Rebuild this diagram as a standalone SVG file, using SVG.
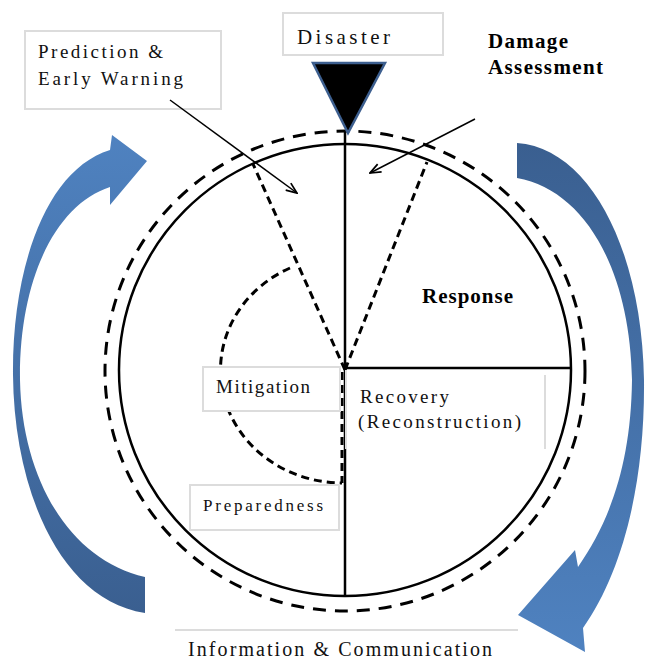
<svg xmlns="http://www.w3.org/2000/svg" width="646" height="659" viewBox="0 0 646 659">
<style>
.box{fill:#fff;stroke:#dcdcdc;stroke-width:2}
.t{font-family:"Liberation Serif","Times New Roman",serif;fill:#111}
.b{font-family:"Liberation Serif","Times New Roman",serif;font-weight:bold;fill:#000}
.solid{fill:none;stroke:#000;stroke-width:2.5}
.dash{fill:none;stroke:#000;stroke-width:3;stroke-dasharray:13 9}
.sdash{fill:none;stroke:#000;stroke-width:3;stroke-dasharray:8 5}
.lead{fill:none;stroke:#000;stroke-width:1.5;marker-end:url(#open)}
</style>
<defs>
<marker id="open" viewBox="0 0 12 10" refX="11" refY="5" markerWidth="13" markerHeight="11" markerUnits="userSpaceOnUse" orient="auto">
<path d="M1,1 L11,5 L1,9" fill="none" stroke="#000" stroke-width="1.6"/>
</marker>
<linearGradient id="gl" x1="0" y1="0" x2="0" y2="1">
<stop offset="0" stop-color="#4f82c0"/><stop offset="1" stop-color="#3a5f90"/>
</linearGradient>
<linearGradient id="gr" x1="0" y1="0" x2="0" y2="1">
<stop offset="0" stop-color="#3a5f90"/><stop offset="1" stop-color="#4f82c0"/>
</linearGradient>
</defs>

<g id="cycle-arrows">
<path id="arrow-left" fill="url(#gl)" d="M145,577 C70,560 22,480 20,380 C19,280 55,205 110,187 L110,205 L147,161 L112,135 L110,150 C45,170 12,270 13,375 C14,490 60,600 145,613 Z"/>
<path id="arrow-right" fill="url(#gr)" d="M517,143 C590,148 642,250 644,380 C645,480 624,570 583,628 L585,652 L518,615 L575,550 L578,567 C612,518 631,460 632,380 C630,270 585,190 517,178 Z"/>
</g>

<g id="cycle">
<circle class="dash" cx="345" cy="371" r="240"/>
<circle class="solid" cx="345" cy="370" r="226"/>
<line class="solid" x1="345" y1="132" x2="345" y2="596"/>
<line class="solid" x1="345" y1="368" x2="571" y2="368"/>
<line class="sdash" x1="345" y1="370" x2="253" y2="164"/>
<line class="sdash" x1="345" y1="370" x2="427" y2="162"/>
<line class="sdash" x1="342" y1="372" x2="342" y2="483"/>
<path class="sdash" d="M290,268 A122 113 0 0 0 342,483"/>
</g>

<g id="disaster">
<rect class="box" x="283" y="13" width="160" height="42"/>
<text class="t" x="297" y="44" font-size="21" textLength="93">Disaster</text>
<polygon points="313,63 385,63 348,133" fill="#000" stroke="#3d5f8f" stroke-width="2.5" stroke-linejoin="miter"/>
</g>

<g id="prediction">
<rect class="box" x="25" y="31" width="196" height="78"/>
<text class="t" x="38" y="58" font-size="19" textLength="125">Prediction &amp;</text>
<text class="t" x="38" y="85" font-size="19" textLength="145">Early Warning</text>
</g>

<g id="damage">
<text class="b" x="488" y="48" font-size="21" textLength="80">Damage</text>
<text class="b" x="488" y="74" font-size="21" textLength="115">Assessment</text>
</g>

<g id="response">
<text class="b" x="422" y="303" font-size="21" textLength="91">Response</text>
</g>

<g id="mitigation">
<rect class="box" x="203" y="367" width="137" height="44"/>
<text class="t" x="216" y="393" font-size="19" textLength="94">Mitigation</text>
</g>

<g id="recovery">
<path d="M346,370 V449 M545,375 V449" fill="none" stroke="#dcdcdc" stroke-width="2"/>
<text class="t" x="360" y="403" font-size="19" textLength="89">Recovery</text>
<text class="t" x="358" y="428" font-size="19" textLength="163">(Reconstruction)</text>
</g>

<g id="preparedness">
<rect class="box" x="190" y="485" width="149" height="45"/>
<text class="t" x="203" y="511" font-size="17" textLength="120">Preparedness</text>
</g>

<g id="info">
<line x1="175" y1="630" x2="518" y2="630" stroke="#dcdcdc" stroke-width="2"/>
<text class="t" x="188" y="656" font-size="20" textLength="304">Information &amp; Communication</text>
</g>

<g id="connectors">
<line class="lead" x1="170" y1="100" x2="297" y2="193"/>
<line class="lead" x1="475" y1="119" x2="370" y2="173"/>
</g>
</svg>
